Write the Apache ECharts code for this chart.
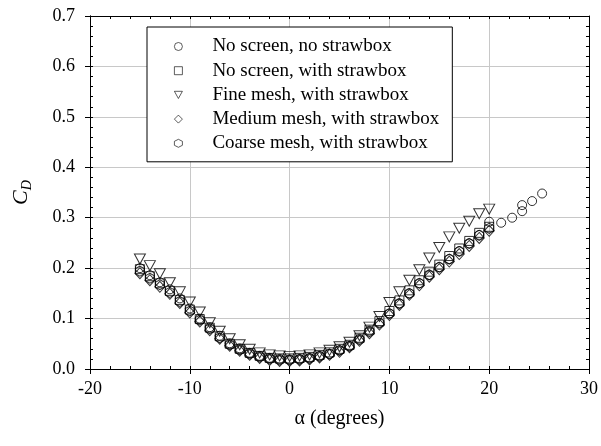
<!DOCTYPE html>
<html>
<head>
<meta charset="utf-8">
<script src="https://cdn.jsdelivr.net/npm/echarts@6/dist/echarts.min.js"></script>
<style>
  html, body { margin: 0; padding: 0; background: #fff; }
  #chart { width: 601px; height: 446px; }
</style>
</head>
<body>
<div id="chart"></div>
<script>
// angle of attack (degrees), shared by the strawbox runs
const alpha = [-15, -14, -13, -12, -11, -10, -9, -8, -7, -6, -5, -4, -3, -2, -1, 0, 1, 2,
  3, 4, 5, 6, 7, 8, 9, 10, 11, 12, 13, 14, 15, 16, 17, 18, 19, 20]

// no screen, no strawbox goes a little further
const alphaNoBox = alpha.concat([21.2, 22.3, 23.3, 23.3, 24.3, 25.3])
const cdNoBox = [0.200, 0.186, 0.172, 0.158, 0.140, 0.120, 0.100, 0.083, 0.066, 0.051, 0.041, 0.032,
  0.026, 0.022, 0.020, 0.019, 0.020, 0.022, 0.026, 0.030, 0.037, 0.046, 0.060, 0.076, 0.092, 0.110,
  0.130, 0.150, 0.170, 0.186, 0.202, 0.218, 0.234, 0.249, 0.266, 0.292,
  0.290, 0.300, 0.313, 0.325, 0.333, 0.348]

const cdNoScreen = [0.198, 0.184, 0.170, 0.155, 0.137, 0.118, 0.099, 0.082, 0.065, 0.050, 0.040, 0.032,
  0.026, 0.022, 0.021, 0.021, 0.022, 0.024, 0.028, 0.033, 0.040, 0.048, 0.062, 0.078, 0.095, 0.115,
  0.136, 0.156, 0.176, 0.193, 0.207, 0.224, 0.239, 0.254, 0.270, 0.282]

const cdFine = [0.218, 0.205, 0.189, 0.171, 0.153, 0.133, 0.113, 0.092, 0.075, 0.060, 0.048, 0.039,
  0.032, 0.028, 0.026, 0.025, 0.026, 0.028, 0.032, 0.037, 0.044, 0.053, 0.066, 0.083, 0.104, 0.132,
  0.153, 0.176, 0.197, 0.220, 0.241, 0.262, 0.279, 0.293, 0.308, 0.317]

const cdMedium = [0.190, 0.176, 0.163, 0.149, 0.131, 0.112, 0.094, 0.077, 0.060, 0.046, 0.036, 0.028,
  0.022, 0.018, 0.016, 0.016, 0.017, 0.019, 0.023, 0.028, 0.034, 0.043, 0.056, 0.071, 0.088, 0.107,
  0.127, 0.147, 0.166, 0.183, 0.198, 0.213, 0.228, 0.244, 0.260, 0.274]

const cdCoarse = [0.194, 0.180, 0.167, 0.152, 0.134, 0.115, 0.097, 0.080, 0.062, 0.048, 0.038, 0.030,
  0.024, 0.020, 0.018, 0.018, 0.019, 0.021, 0.025, 0.030, 0.037, 0.045, 0.058, 0.074, 0.091, 0.110,
  0.130, 0.150, 0.170, 0.187, 0.202, 0.218, 0.233, 0.249, 0.265, 0.279]

const seriesNames = [
  'No screen, no strawbox',
  'No screen, with strawbox',
  'Fine mesh, with strawbox',
  'Medium mesh, with strawbox',
  'Coarse mesh, with strawbox',
]

const FONT = '"Liberation Serif", "DejaVu Serif", serif'

// hollow markers
const downTriangle = 'path://M0,0 L10,0 L5,9 Z'
const hexagon = 'path://M5,0 L10,2.5 L10,7.5 L5,10 L0,7.5 L0,2.5 Z'

const pairs = (xs, ys) => xs.map((x, i) => [x, ys[i]])

const chart = echarts.init(document.getElementById('chart'))

const mkSeries = (name, data, symbol, size) => ({
  name: name,
  type: 'scatter',
  data: data,
  symbol: symbol,
  symbolSize: size,
  itemStyle: { color: 'rgba(0,0,0,0)', borderColor: '#000', borderWidth: 1 },
  emphasis: { disabled: true },
})

const black = { color: '#000', width: 1 }

// main axes: labels, gridlines, major ticks pointing out
const mainAxis = {
  type: 'value',
  axisLine: { show: true, onZero: false, lineStyle: black },
  axisTick: { show: true, inside: false, length: 5, lineStyle: black },
  splitLine: { show: true, lineStyle: { color: '#c8c8c8', width: 1 } },
}

// extra axes for the small inward ticks (also used for the top and right frame)
const tickAxis = pos => ({
  type: 'value',
  position: pos,
  axisLine: { show: true, onZero: false, lineStyle: black },
  axisTick: { show: true, inside: true, length: 3, lineStyle: black },
  minorTick: { show: true, splitNumber: 5, length: 3, lineStyle: black },
  axisLabel: { show: false },
  splitLine: { show: false },
})

const xRange = { min: -20, max: 30, interval: 10 }
const yRange = { min: 0, max: 0.7, interval: 0.1 }

const option = {
  animation: false,
  backgroundColor: '#fff',
  textStyle: { fontFamily: FONT },
  grid: { left: 90, right: 11, top: 16, bottom: 77 },
  legend: {
    orient: 'vertical',
    left: 147,
    top: 27,
    padding: [10, 13, 9, 27],
    itemWidth: 8,
    itemHeight: 8,
    itemGap: 5.2,
    borderColor: '#000',
    borderWidth: 1,
    backgroundColor: '#fff',
    data: seriesNames,
    itemStyle: { color: 'rgba(0,0,0,0)', borderColor: '#000', borderWidth: 0.8 },
    formatter: name => '{g|}' + name,
    textStyle: {
      fontFamily: FONT,
      fontSize: 19,
      lineHeight: 19,
      color: '#000',
      rich: { g: { width: 25 } },
    },
  },
  xAxis: [
    Object.assign({}, mainAxis, xRange, {
      position: 'bottom',
      name: 'α (degrees)',
      nameLocation: 'middle',
      nameGap: 40,
      nameTextStyle: { fontFamily: FONT, fontSize: 20, color: '#000' },
      axisLabel: { fontFamily: FONT, fontSize: 18, color: '#000', margin: 11 },
    }),
    Object.assign(tickAxis('bottom'), xRange),
    Object.assign(tickAxis('top'), xRange),
  ],
  yAxis: [
    Object.assign({}, mainAxis, yRange, {
      position: 'left',
      name: '{c|C}{d|D}',
      nameLocation: 'middle',
      nameGap: 56,
      nameTextStyle: {
        rich: {
          c: { fontFamily: FONT, fontSize: 22, fontStyle: 'italic', color: '#000', lineHeight: 26 },
          d: { fontFamily: FONT, fontSize: 14, fontStyle: 'italic', color: '#000', verticalAlign: 'bottom', lineHeight: 15 },
        },
      },
      axisLabel: { fontFamily: FONT, fontSize: 18, color: '#000', margin: 15, formatter: v => v.toFixed(1) },
    }),
    Object.assign(tickAxis('left'), yRange),
    Object.assign(tickAxis('right'), yRange),
  ],
  series: [
    mkSeries(seriesNames[0], pairs(alphaNoBox, cdNoBox), 'circle', 9),
    mkSeries(seriesNames[1], pairs(alpha, cdNoScreen), 'rect', 9),
    mkSeries(seriesNames[2], pairs(alpha, cdFine), downTriangle, [11, 10]),
    mkSeries(seriesNames[3], pairs(alpha, cdMedium), 'diamond', [10, 11]),
    mkSeries(seriesNames[4], pairs(alpha, cdCoarse), hexagon, [9, 10]),
  ],
}

chart.setOption(option)
</script>
</body>
</html>
